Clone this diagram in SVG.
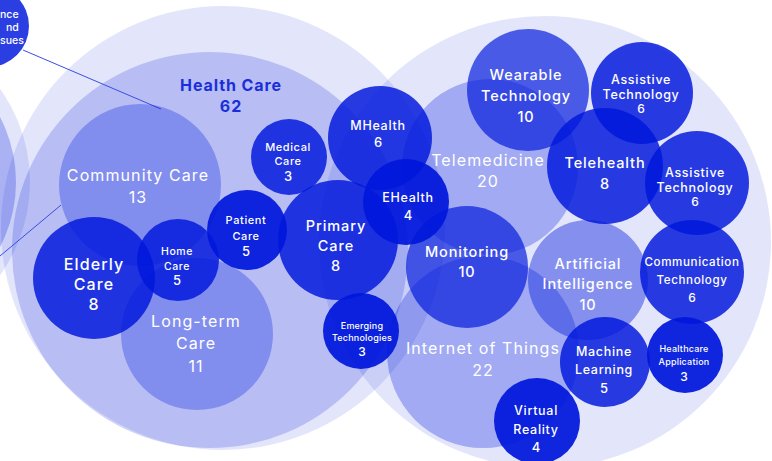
<svg xmlns="http://www.w3.org/2000/svg" width="772" height="461" viewBox="0 0 772 461">
<style>
  circle { fill: #0017dc; }
  .p1 { fill-opacity: 0.11; }
  .p2 { fill-opacity: 0.19; }
  .p3 { fill-opacity: 0.25; }
  .m { fill-opacity: 0.29; }
  .ai { fill-opacity: 0.42; }
  .w { fill-opacity: 0.68; }
  .d { fill-opacity: 0.83; }
  .dd { fill-opacity: 0.93; }
  text { font-family: Inter, "Liberation Sans", sans-serif; fill: #ffffff; text-anchor: middle; }
  .t15 { font-size: 16px; font-weight: 400; letter-spacing: 1.1px; }
  .t14 { font-size: 14.5px; font-weight: 500; letter-spacing: 0.9px; }
  .t12 { font-size: 12.5px; font-weight: 500; letter-spacing: 0.7px; }
  .t11 { font-size: 11px; font-weight: 500; letter-spacing: 0.6px; }
  .t10 { font-size: 10.5px; font-weight: 500; letter-spacing: 0.6px; }
  .t9 { font-size: 9px; font-weight: 500; letter-spacing: 0.2px; }
  .n13 { font-size: 13px; font-weight: 500; }
  .n12 { font-size: 12px; font-weight: 500; }
  .edge { font-size: 10.5px; font-weight: 500; text-anchor: start; }
  .hc { fill: #1a2fd8; font-size: 16px; font-weight: 700; letter-spacing: 0.9px; }
  .link { stroke: #3a4ee4; stroke-width: 1; fill: none; }
</style>
<rect width="772" height="461" fill="#ffffff"/>

<g id="background-clusters">
  <circle class="p1" cx="-130" cy="182" r="160"/>
  <circle class="p3" cx="-124" cy="182" r="140"/>
  <circle class="p1" cx="223" cy="228" r="222"/>
  <circle class="p1" cx="545" cy="242" r="226"/>
</g>

<g id="node-science-issues">
  <circle class="d" cx="-12" cy="26" r="41"/>
  <text class="edge" x="0" y="18">nce</text>
  <text class="edge" x="6" y="31">nd</text>
  <text class="edge" x="0" y="44">sues</text>
</g>

<g id="node-health-care">
  <circle class="p2" cx="210" cy="250" r="198"/>
  <text class="hc" x="231" y="90.5">Health Care</text>
  <text class="hc" x="231" y="111.5">62</text>
</g>

<g id="connectors">
  <line class="link" x1="23" y1="50" x2="161" y2="109"/>
  <line class="link" x1="0" y1="256" x2="61" y2="205"/>
</g>

<g id="node-community-care">
  <circle class="m" cx="140" cy="185" r="81"/>
  <text class="t15" x="138" y="181">Community Care</text>
  <text class="t15" x="138" y="203">13</text>
</g>
<g id="node-long-term-care">
  <circle class="m" cx="197" cy="334" r="76"/>
  <text class="t15" x="196" y="327">Long-term</text>
  <text class="t15" x="196" y="349">Care</text>
  <text class="t15" x="196" y="372">11</text>
</g>
<g id="node-telemedicine">
  <circle class="m" cx="490" cy="167" r="88"/>
  <text class="t15" x="488" y="166">Telemedicine</text>
  <text class="t15" x="488" y="187">20</text>
</g>
<g id="node-internet-of-things">
  <circle class="m" cx="483" cy="352" r="96"/>
  <text class="t15" x="483" y="354">Internet of Things</text>
  <text class="t15" x="483" y="376">22</text>
</g>
<g id="node-artificial-intelligence">
  <circle class="ai" cx="588" cy="280" r="60"/>
  <text class="t14" x="588" y="269">Artificial</text>
  <text class="t14" x="588" y="289">Intelligence</text>
  <text class="t14" x="588" y="310">10</text>
</g>

<g id="node-elderly-care">
  <circle class="d" cx="94" cy="278" r="61"/>
  <text class="t15" style="font-weight:500" x="94" y="270">Elderly</text>
  <text class="t15" style="font-weight:500" x="94" y="290">Care</text>
  <text class="t15" style="font-weight:500" x="94" y="310">8</text>
</g>
<g id="node-home-care">
  <circle class="d" cx="178" cy="260" r="41"/>
  <text class="t10" x="177" y="255">Home</text>
  <text class="t10" x="177" y="270">Care</text>
  <text class="n13" x="177" y="284.5">5</text>
</g>
<g id="node-patient-care">
  <circle class="dd" cx="247" cy="230" r="40"/>
  <text class="t11" x="246" y="224">Patient</text>
  <text class="t11" x="246" y="240">Care</text>
  <text class="n13" x="246" y="255.5">5</text>
</g>
<g id="node-medical-care">
  <circle class="d" cx="289" cy="157" r="38"/>
  <text class="t11" x="288" y="151">Medical</text>
  <text class="t11" x="288" y="165">Care</text>
  <text class="n13" x="288" y="180.5">3</text>
</g>
<g id="node-primary-care">
  <circle class="d" cx="338" cy="240" r="60"/>
  <text class="t14" x="336" y="231">Primary</text>
  <text class="t14" x="336" y="251">Care</text>
  <text class="t14" x="336" y="271">8</text>
</g>
<g id="node-mhealth">
  <circle class="d" cx="380" cy="138" r="52"/>
  <text class="t12" x="378" y="129.5">MHealth</text>
  <text class="n13" x="378" y="146.5">6</text>
</g>
<g id="node-ehealth">
  <circle class="dd" cx="406" cy="202" r="43"/>
  <text class="t12" x="408" y="201.5">EHealth</text>
  <text class="n13" x="408" y="219.5">4</text>
</g>
<g id="node-emerging-technologies">
  <circle class="dd" cx="361" cy="331" r="38"/>
  <text class="t9" x="362" y="329">Emerging</text>
  <text class="t9" x="362" y="341">Technologies</text>
  <text class="n12" x="362" y="355.5">3</text>
</g>

<g id="node-wearable-technology">
  <circle class="w" cx="528" cy="90" r="61"/>
  <text class="t14" x="526" y="80">Wearable</text>
  <text class="t14" x="526" y="101">Technology</text>
  <text class="t14" x="526" y="122">10</text>
</g>
<g id="node-assistive-technology-1">
  <circle class="d" cx="642" cy="93" r="51"/>
  <text class="t12" x="641" y="83.5">Assistive</text>
  <text class="t12" x="641" y="98.5">Technology</text>
  <text class="n12" x="641" y="112.5">6</text>
</g>
<g id="node-telehealth">
  <circle class="d" cx="605" cy="166" r="58"/>
  <text class="t14" x="605" y="168">Telehealth</text>
  <text class="t14" x="605" y="189">8</text>
</g>
<g id="node-assistive-technology-2">
  <circle class="d" cx="697" cy="183" r="52"/>
  <text class="t12" x="695" y="176.5">Assistive</text>
  <text class="t12" x="695" y="191.5">Technology</text>
  <text class="n12" x="695" y="205.5">6</text>
</g>
<g id="node-communication-technology">
  <circle class="d" cx="692" cy="272" r="52"/>
  <text class="t11" style="font-size:11.6px" x="692" y="266">Communication</text>
  <text class="t11" style="font-size:11.6px" x="692" y="284">Technology</text>
  <text class="n12" x="692" y="301.5">6</text>
</g>
<g id="node-monitoring">
  <circle class="w" cx="467" cy="267" r="61"/>
  <text class="t14" x="467" y="257">Monitoring</text>
  <text class="t14" x="467" y="277">10</text>
</g>
<g id="node-machine-learning">
  <circle class="d" cx="605" cy="362" r="45"/>
  <text class="t12" x="604" y="355.5">Machine</text>
  <text class="t12" x="604" y="373.5">Learning</text>
  <text class="n13" x="604" y="392.5">5</text>
</g>
<g id="node-healthcare-application">
  <circle class="dd" cx="685" cy="355" r="38"/>
  <text class="t9" x="684" y="352">Healthcare</text>
  <text class="t9" x="684" y="365">Application</text>
  <text class="n12" x="684" y="380.5">3</text>
</g>
<g id="node-virtual-reality">
  <circle class="dd" cx="537" cy="421" r="43"/>
  <text class="t12" x="536" y="414.5">Virtual</text>
  <text class="t12" x="536" y="433.5">Reality</text>
  <text class="n13" x="536" y="451.5">4</text>
</g>
</svg>
